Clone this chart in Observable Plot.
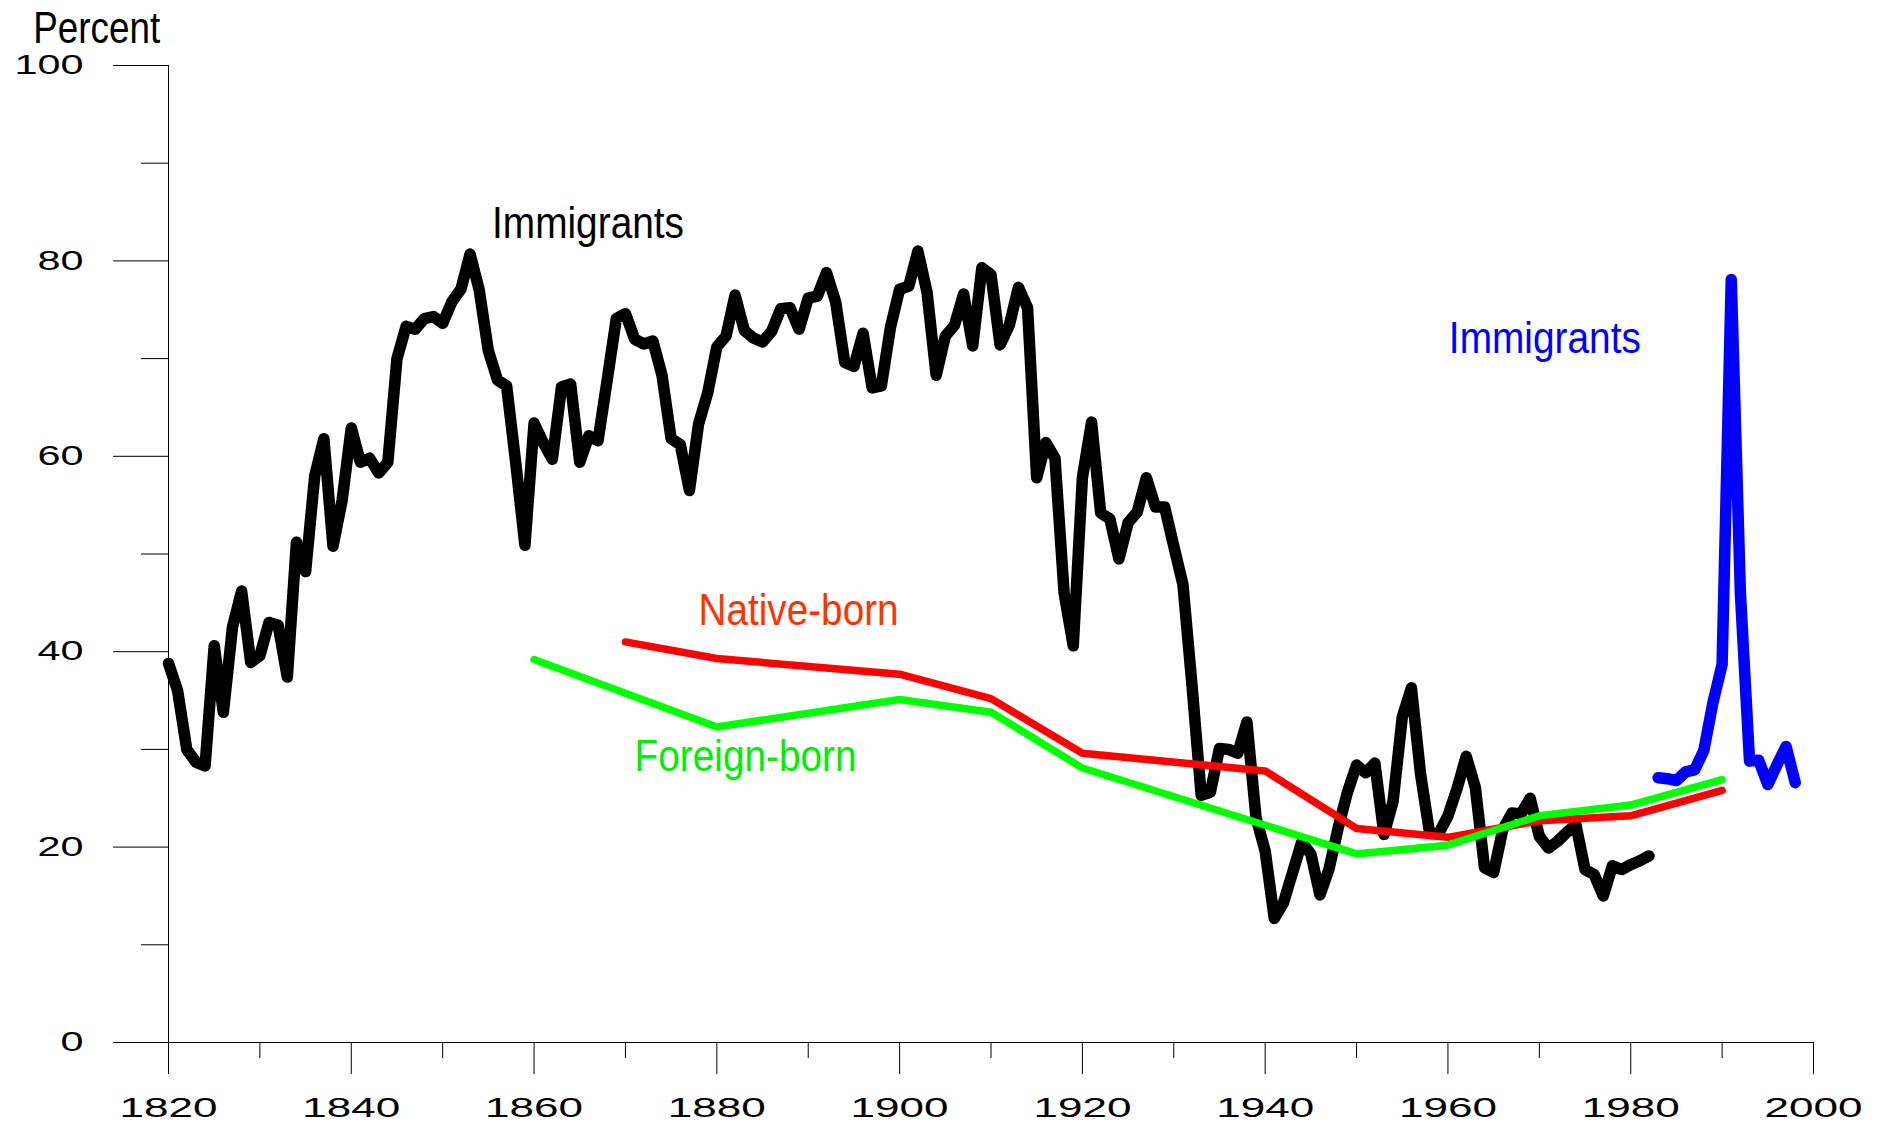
<!DOCTYPE html>
<html>
<head>
<meta charset="utf-8">
<script src="https://cdn.jsdelivr.net/npm/d3@7"></script>
<script src="https://cdn.jsdelivr.net/npm/@observablehq/plot@0.6"></script>
<style>
  html, body { margin: 0; padding: 0; background: #fff; }
</style>
</head>
<body>
<div id="chart"></div>
<script>
// ---- Data (percent) ----
// Immigrants, yearly from 1820 to 1982 (black)
const immigrantsOldStart = 1820;
const immigrantsOldValues = [
  38.8, 36.0, 30.0, 28.7, 28.3, 40.6, 33.8, 42.5, 46.2, 38.9,   // 1820-1829
  39.6, 43.0, 42.7, 37.4, 51.2, 48.2, 58.0, 61.8, 50.8, 55.5,   // 1830-1839
  62.9, 59.4, 59.8, 58.3, 59.4, 70.0, 73.3, 73.0, 74.1, 74.3,   // 1840-1849
  73.6, 75.8, 77.1, 80.7, 77.0, 70.8, 67.8, 67.2, 59.3, 50.9,   // 1850-1859
  63.4, 61.4, 59.7, 67.1, 67.4, 59.4, 62.1, 61.6, 67.8, 74.1,   // 1860-1869
  74.6, 72.0, 71.5, 71.8, 68.3, 61.8, 61.2, 56.5, 63.3, 66.5,   // 1870-1879
  71.2, 72.3, 76.5, 72.9, 72.1, 71.7, 72.8, 75.1, 75.2, 73.0,   // 1880-1889
  76.2, 76.4, 78.8, 75.8, 69.6, 69.2, 72.6, 67.0, 67.2, 73.2,   // 1890-1899
  77.1, 77.4, 81.0, 76.8, 68.3, 72.3, 73.4, 76.6, 71.3, 79.3,   // 1900-1909
  78.6, 71.4, 73.4, 77.3, 75.2, 57.8, 61.4, 59.8, 46.0, 40.6,   // 1910-1919
  57.8, 63.5, 54.2, 53.6, 49.5, 53.2, 54.3, 57.8, 54.8, 54.8,   // 1920-1929
  50.8, 46.9, 36.5, 25.3, 25.6, 30.1, 30.0, 29.6, 32.8, 23.0,   // 1930-1939
  19.6, 12.7, 14.3, 17.4, 20.5, 19.3, 15.1, 17.8, 22.0, 25.6,   // 1940-1949
  28.4, 27.6, 28.6, 21.3, 24.7, 33.3, 36.3, 27.5, 21.4, 21.4,   // 1950-1959
  23.2, 26.0, 29.3, 26.1, 17.9, 17.4, 21.8, 23.5, 23.4, 25.0,   // 1960-1969
  21.1, 19.9, 20.6, 21.5, 22.3, 17.7, 17.2, 15.0, 18.1, 17.7,   // 1970-1979
  18.2, 18.6, 19.1                                              // 1980-1982
];

// Immigrants, yearly from 1983 to 1998 (blue)
const immigrantsNewStart = 1983;
const immigrantsNewValues = [
  27.1, 27.0, 26.8, 27.7, 27.9, 29.9, 34.8, 38.7,
  78.1, 46.0, 28.8, 28.9, 26.4, 28.4, 30.3, 26.6
];

// Native-born (red), census years
const nativeYears  = [1870, 1880, 1900, 1910, 1920, 1940, 1950, 1960, 1970, 1980, 1990];
const nativeValues = [41.0, 39.3, 37.7, 35.2, 29.6, 27.8, 21.9, 21.0, 22.7, 23.2, 25.8];

// Foreign-born (green), census years
const foreignYears  = [1860, 1880, 1900, 1910, 1920, 1950, 1960, 1970, 1980, 1990];
const foreignValues = [39.2, 32.3, 35.1, 33.8, 28.1, 19.3, 20.2, 23.2, 24.3, 26.9];

// Axis ticks
const xMajorTicks = [1820, 1840, 1860, 1880, 1900, 1920, 1940, 1960, 1980, 2000];
const xMinorTicks = [1830, 1850, 1870, 1890, 1910, 1930, 1950, 1970, 1990];
const yMajorTicks = [0, 20, 40, 60, 80, 100];
const yMinorTicks = [10, 30, 50, 70, 90];

// Annotation texts
const labelTexts  = ["Percent", "Immigrants", "Native-born", "Foreign-born", "Immigrants"];
const labelYears  = [1805.2, 1855.4, 1878.0, 1871.0, 1960.1];
const labelValues = [102.35, 82.3, 42.7, 27.8, 70.6];
const labelColors = ["#000000", "#000000", "#ff3300", "#00ee00", "#0000ff"];
const labelWidths = [127, 192, 200, 222, 192];

// ---- Build tables ----
const immigrantsOld = immigrantsOldValues.map((v, i) => ({year: immigrantsOldStart + i, value: v}));
const immigrantsNew = immigrantsNewValues.map((v, i) => ({year: immigrantsNewStart + i, value: v}));
const nativeBorn  = nativeYears.map((y, i) => ({year: y, value: nativeValues[i]}));
const foreignBorn = foreignYears.map((y, i) => ({year: y, value: foreignValues[i]}));
const labels = labelTexts.map((t, i) => ({text: t, year: labelYears[i], value: labelValues[i], color: labelColors[i], width: labelWidths[i]}));

const lineOpts = {x: "year", y: "value", strokeLinejoin: "round", strokeLinecap: "round"};

const chart = Plot.plot({
  width: 1885,
  height: 1123,
  marginLeft: 168,
  marginRight: 72,
  marginTop: 65,
  marginBottom: 81,
  x: {domain: [1820, 2000]},
  y: {domain: [0, 100]},
  style: {fontFamily: "'Liberation Sans', Arial, sans-serif", background: "#ffffff", color: "#000", overflow: "visible"},
  marks: [
    Plot.ruleX([1820], {stroke: "#000", strokeWidth: 1}),
    Plot.ruleY([0], {stroke: "#000", strokeWidth: 1}),
    Plot.axisX({ticks: xMajorTicks, tickSize: 32, tickPadding: 23, fontSize: 28, tickFormat: d => String(d), label: null, stroke: "#000", strokeOpacity: 1}),
    Plot.axisX({ticks: xMinorTicks, tickSize: 16, tickFormat: () => "", label: null, stroke: "#000", strokeOpacity: 1}),
    Plot.axisY({ticks: yMajorTicks, tickSize: 55, tickPadding: 30, fontSize: 27, tickFormat: d => String(d), label: null, stroke: "#000", strokeOpacity: 1}),
    Plot.axisY({ticks: yMinorTicks, tickSize: 27, tickFormat: () => "", label: null, stroke: "#000", strokeOpacity: 1}),
    Plot.line(immigrantsOld, {...lineOpts, stroke: "#000000", strokeWidth: 11.5}),
    Plot.line(nativeBorn, {...lineOpts, stroke: "#ff0000", strokeWidth: 7.5}),
    Plot.line(foreignBorn, {...lineOpts, stroke: "#00ff00", strokeWidth: 7.5}),
    Plot.line(immigrantsNew, {...lineOpts, stroke: "#0000ff", strokeWidth: 11.5}),
    Plot.text(labels, {x: "year", y: "value", text: "text", fill: "color", fontSize: 44, textAnchor: "start", lineAnchor: "bottom", clip: false})
  ]
});

document.getElementById("chart").appendChild(chart);

// Stretch/condense texts to match the reference's glyph widths
const svg = d3.select(chart);
svg.selectAll('g[aria-label="x-axis tick label"] text')
  .filter(function() { return this.textContent.length > 0; })
  .attr("textLength", 98).attr("lengthAdjust", "spacingAndGlyphs");
svg.selectAll('g[aria-label="y-axis tick label"] text')
  .filter(function() { return this.textContent.length > 0; })
  .each(function() {
    d3.select(this).attr("textLength", 23 * this.textContent.length).attr("lengthAdjust", "spacingAndGlyphs");
  });
svg.selectAll('g[aria-label="text"] text').each(function(_, i) {
  d3.select(this).attr("textLength", labels[i].width).attr("lengthAdjust", "spacingAndGlyphs");
});
</script>
</body>
</html>
